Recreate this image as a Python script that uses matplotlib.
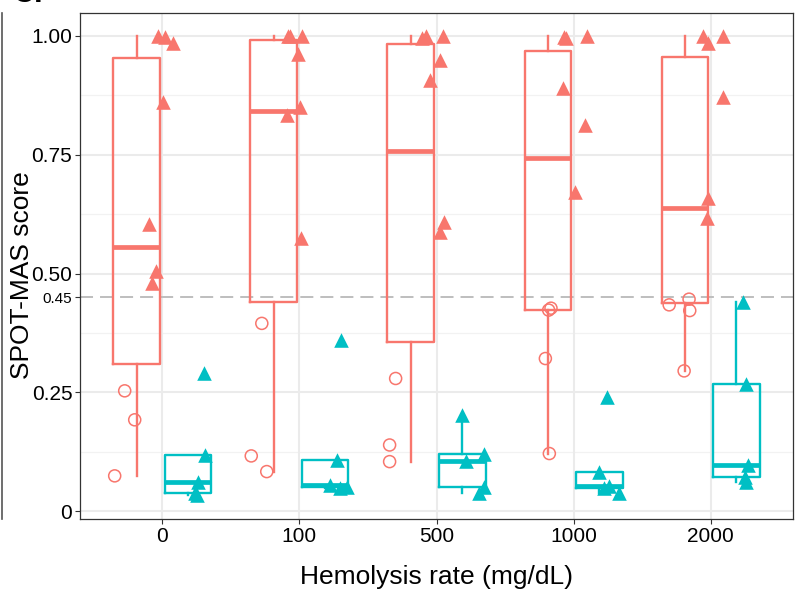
import matplotlib
matplotlib.use("Agg")
import matplotlib.pyplot as plt
import numpy as np

# hemolysis levels on the x axis
levels = ["0", "100", "500", "1000", "2000"]
threshold = 0.45

# SPOT-MAS scores, cancer samples (red) per level
cancer_scores = [
    [1.0, 0.998, 0.985, 0.860, 0.604, 0.506, 0.481, 0.253, 0.192, 0.074],
    [1.0, 1.0, 1.0, 0.963, 0.850, 0.834, 0.574, 0.395, 0.116, 0.083],
    [1.0, 1.0, 0.995, 0.949, 0.907, 0.609, 0.588, 0.279, 0.139, 0.104],
    [1.0, 0.997, 0.995, 0.890, 0.813, 0.672, 0.427, 0.423, 0.321, 0.121],
    [1.0, 1.0, 0.985, 0.872, 0.658, 0.616, 0.446, 0.434, 0.422, 0.295],
]
cancer_jitter = [
    [-0.031, 0.022, 0.078, 0.005, -0.097, -0.044, -0.073, -0.274, -0.201, -0.347],
    [-0.085, 0.022, -0.065, -0.012, 0.005, -0.092, 0.012, -0.274, -0.351, -0.238],
    [-0.073, 0.046, -0.109, 0.029, -0.044, 0.058, 0.022, -0.298, -0.342, -0.342],
    [0.095, -0.068, -0.058, -0.080, 0.085, 0.012, -0.165, -0.182, -0.206, -0.177],
    [-0.056, 0.089, -0.020, 0.089, -0.020, -0.024, -0.158, -0.303, -0.153, -0.194],
]

# healthy samples (teal) per level
healthy_scores = [
    [0.290, 0.118, 0.062, 0.037, 0.033],
    [0.360, 0.108, 0.055, 0.050, 0.048],
    [0.202, 0.121, 0.106, 0.051, 0.037],
    [0.241, 0.082, 0.052, 0.049, 0.037],
    [0.439, 0.267, 0.097, 0.071, 0.062],
]
healthy_jitter = [
    [0.303, 0.313, 0.264, 0.240, 0.255],
    [0.303, 0.271, 0.223, 0.344, 0.298],
    [0.187, 0.344, 0.216, 0.344, 0.308],
    [0.247, 0.182, 0.260, 0.225, 0.332],
    [0.235, 0.255, 0.271, 0.247, 0.255],
]

red = "#F8766D"
teal = "#00BFC4"

plt.rcParams["font.family"] = ["Liberation Sans", "DejaVu Sans"]

fig = plt.figure(figsize=(7.96, 5.91), dpi=100)
ax = fig.add_axes([80 / 796, 72 / 591, 713 / 796, 506 / 591])

pos = np.arange(len(levels))
ax.set_xlim(-0.6, len(levels) - 0.4)
ax.set_ylim(-0.0168, 1.0484)

# grid like theme_bw
for v in [0.125, 0.375, 0.625, 0.875]:
    ax.axhline(v, color="#F2F2F2", lw=0.9, zorder=0)
for v in [0, 0.25, 0.5, 0.75, 1.0]:
    ax.axhline(v, color="#EBEBEB", lw=1.5, zorder=0)
for p in pos:
    ax.axvline(p, color="#EBEBEB", lw=1.5, zorder=0)

ax.axhline(threshold, color="#BEBEBE", lw=1.4, ls=(0, (6.7, 3.6)), zorder=1)

def draw_boxes(data, offset, color):
    ax.boxplot(data, positions=pos + offset, widths=0.34, whis=1.5,
               showfliers=False, showcaps=False, manage_ticks=False,
               boxprops=dict(color=color, lw=1.7),
               whiskerprops=dict(color=color, lw=1.7),
               medianprops=dict(color=color, lw=3.4, solid_capstyle="butt"),
               zorder=2)

draw_boxes(cancer_scores, -0.1875, red)
draw_boxes(healthy_scores, 0.1875, teal)

for i in range(len(levels)):
    cs = np.array(cancer_scores[i])
    cj = np.array(cancer_jitter[i])
    low = cs < threshold
    ax.scatter(i + cj[low], cs[low], s=75, facecolors="none", edgecolors=red,
               linewidths=1.1, zorder=3)
    ax.scatter(i + cj[~low], cs[~low], marker="^", s=110, color=red,
               linewidths=0, zorder=3)
    ax.scatter(i + np.array(healthy_jitter[i]), healthy_scores[i], marker="^",
               s=110, color=teal, linewidths=0, zorder=3)

ax.set_xticks(pos)
ax.set_xticklabels(levels)
ax.set_yticks([0, 0.25, 0.45, 0.5, 0.75, 1.0])
ax.set_yticklabels(["0", "0.25", "0.45", "0.50", "0.75", "1.00"])
ax.tick_params(labelsize=15, length=3.5, width=0.8, color="#333333",
               labelcolor="black", pad=2)
for lab in ax.get_yticklabels():
    if lab.get_text() == "0.45":
        lab.set_fontsize(11)

for s in ax.spines.values():
    s.set_color("#333333")
    s.set_linewidth(0.9)

ax.set_xlabel("Hemolysis rate (mg/dL)", fontsize=19, labelpad=14)
fig.text(22 / 796, 1 - 275 / 591, "SPOT-MAS score", fontsize=19,
         rotation=90, ha="center", va="center")

# neighbouring panel edge and cut panel tag
fig.add_artist(plt.Line2D([2 / 796, 2 / 796], [72 / 591, 578 / 591],
                          color="#555555", lw=1.2))
fig.text(13 / 796, 1 - 2 / 591, "C.", fontsize=22, fontweight="bold",
         va="baseline", ha="left")

fig.savefig("out.png", dpi=100)
